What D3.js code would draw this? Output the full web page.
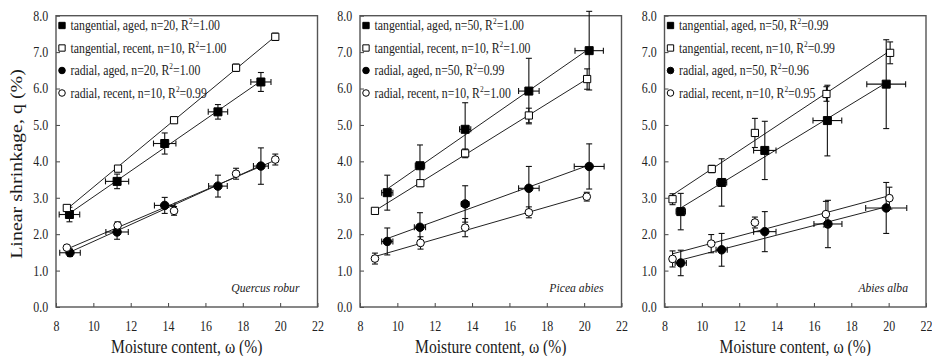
<!DOCTYPE html>
<html><head><meta charset="utf-8">
<script src="https://cdn.jsdelivr.net/npm/d3@7"></script>
<style>
body{margin:0;background:#fff;}
svg{display:block;}
</style></head>
<body><svg id="c" width="932" height="356" font-family="Liberation Serif"></svg>
<script>
// ---- data ----
const species = ["Quercus robur", "Picea abies", "Abies alba"];
const seriesNames = ["tangential, aged", "tangential, recent", "radial, aged", "radial, recent"];
const nValues = [[20,10,20,10],[50,10,50,10],[50,10,50,10]];
const r2Values = [["1.00","1.00","1.00","0.99"],["1.00","1.00","0.99","1.00"],["0.99","0.99","0.96","0.95"]];
const xTicks = [8,10,12,14,16,18,20,22];
const yTicks = [0,1,2,3,4,5,6,7,8];

// Quercus robur: [x, y, xErr, yErr]
const quercusTanAged   = [[8.72,2.54,0.55,0.2],[11.27,3.45,0.62,0.2],[13.82,4.49,0.6,0.29],[16.67,5.36,0.52,0.2],[18.97,6.18,0.54,0.26]];
const quercusTanRecent = [[8.58,2.72,0,0.06],[11.32,3.8,0,0.08],[14.32,5.13,0,0.08],[17.64,6.57,0,0.1],[19.74,7.42,0,0.1]];
const quercusRadAged   = [[8.75,1.49,0.55,0.1],[11.27,2.06,0.6,0.2],[13.82,2.79,0.55,0.22],[16.67,3.32,0.5,0.3],[18.97,3.87,0.4,0.5]];
const quercusRadRecent = [[8.58,1.63,0,0.05],[11.3,2.24,0,0.1],[14.32,2.64,0,0.12],[17.64,3.66,0,0.15],[19.74,4.05,0,0.15]];
// Picea abies
const piceaTanAged   = [[9.46,3.14,0.3,0.48],[11.21,3.88,0.25,0.57],[13.63,4.88,0.3,0.73],[17.04,5.93,0.55,0.9],[20.27,7.04,0.76,1.08]];
const piceaTanRecent = [[8.8,2.64,0,0.05],[11.23,3.4,0,0.08],[13.63,4.22,0,0.12],[17.04,5.26,0,0.2],[20.16,6.26,0,0.28]];
const piceaRadAged   = [[9.46,1.8,0.3,0.37],[11.21,2.19,0.3,0.4],[13.63,2.83,0.2,0.5],[17.04,3.26,0.55,0.6],[20.27,3.86,0.8,0.62]];
const piceaRadRecent = [[8.8,1.33,0,0.15],[11.24,1.76,0,0.17],[13.63,2.18,0,0.25],[17.04,2.6,0,0.15],[20.14,3.03,0,0.12]];
// Abies alba
const abiesTanAged   = [[8.87,2.62,0.25,0.5],[11.06,3.42,0.27,0.65],[13.37,4.3,0.6,0.8],[16.72,5.12,0.77,0.97],[19.87,6.12,1.04,1.22]];
const abiesTanRecent = [[8.43,2.96,0,0.15],[10.53,3.79,0,0.1],[12.84,4.78,0,0.4],[16.67,5.85,0,0.2],[20.08,6.98,0,0.3]];
const abiesRadAged   = [[8.87,1.21,0.3,0.35],[11.06,1.57,0.3,0.45],[13.37,2.07,0.6,0.55],[16.75,2.28,0.75,0.65],[19.87,2.72,1.1,0.7]];
const abiesRadRecent = [[8.43,1.32,0,0.22],[10.5,1.74,0,0.25],[12.84,2.32,0,0.15],[16.64,2.55,0,0.35],[20.04,2.99,0,0.3]];

const panelsData = [
  [quercusTanAged, quercusTanRecent, quercusRadAged, quercusRadRecent],
  [piceaTanAged, piceaTanRecent, piceaRadAged, piceaRadRecent],
  [abiesTanAged, abiesTanRecent, abiesRadAged, abiesRadRecent]
];

// ---- layout ----
const FONT = "Liberation Serif";
const panelLeft = [56, 360, 664.5];
const pw = 261.5, plotTop = 15.7, plotBottom = 307;
const SX = 0.866; // horizontal text compression seen in the reference
const svg = d3.select("#c");
const markerShape = [d3.symbolSquare, d3.symbolSquare, d3.symbolCircle, d3.symbolCircle];
const markerFill = ["#000","#fff","#000","#fff"];
const markerSize = [64, 52, 56, 46];

function fit(pts){
  const mx=d3.mean(pts,d=>d[0]), my=d3.mean(pts,d=>d[1]);
  let sxy=0,sxx=0; pts.forEach(d=>{sxy+=(d[0]-mx)*(d[1]-my);sxx+=(d[0]-mx)**2;});
  const b=sxy/sxx; return [b, my-b*mx];
}
function label(parent, x, y, size){
  return parent.append("text").attr("transform",`translate(${x},${y}) scale(${SX},1)`)
    .attr("font-family",FONT).attr("font-size",size).attr("fill","#1a1a1a");
}

panelsData.forEach((series, pi) => {
  const L = panelLeft[pi];
  const x = d3.scaleLinear().domain([8,22]).range([L, L+pw]);
  const y = d3.scaleLinear().domain([0,8]).range([plotBottom, plotTop]);
  const g = svg.append("g");

  const xa = g.append("g").attr("transform",`translate(0,${plotBottom})`)
    .call(d3.axisBottom(x).tickValues(xTicks).tickSizeInner(-4).tickSizeOuter(0).tickPadding(14).tickFormat(d3.format("d")));
  const ya = g.append("g").attr("transform",`translate(${L},0)`)
    .call(d3.axisLeft(y).tickValues(yTicks).tickSizeInner(-4).tickSizeOuter(0).tickPadding(9).tickFormat(d3.format(".1f")));
  [xa,ya].forEach(a=>{
    a.attr("font-family",FONT).attr("font-size",13.8);
    a.select(".domain").remove();
    a.selectAll("line").attr("stroke","#444").attr("stroke-width",1);
    a.selectAll("text").attr("font-family",FONT).attr("font-size",13.8).attr("fill","#222").attr("transform",`scale(${SX},1)`);
  });
  g.append("rect").attr("x",L).attr("y",plotTop).attr("width",pw).attr("height",plotBottom-plotTop)
    .attr("fill","none").attr("stroke","#555").attr("stroke-width",1.4);

  series.forEach(pts => {
    const [b,a] = fit(pts);
    const x0=d3.min(pts,d=>d[0]), x1=d3.max(pts,d=>d[0]);
    g.append("line").attr("x1",x(x0)).attr("y1",y(a+b*x0)).attr("x2",x(x1)).attr("y2",y(a+b*x1))
      .attr("stroke","#222").attr("stroke-width",1);
  });

  series.forEach((pts, si) => {
    pts.forEach(d => {
      const cx=x(d[0]), cy=y(d[1]);
      const eb = g.append("g").attr("stroke","#111").attr("stroke-width",1.1);
      if (d[3]>0){
        eb.append("line").attr("x1",cx).attr("x2",cx).attr("y1",y(d[1]-d[3])).attr("y2",y(d[1]+d[3]));
        [d[1]-d[3], d[1]+d[3]].forEach(v=>eb.append("line").attr("x1",cx-3).attr("x2",cx+3).attr("y1",y(v)).attr("y2",y(v)));
      }
      if (d[2]>0){
        eb.append("line").attr("y1",cy).attr("y2",cy).attr("x1",x(d[0]-d[2])).attr("x2",x(d[0]+d[2]));
        [d[0]-d[2], d[0]+d[2]].forEach(v=>eb.append("line").attr("y1",cy-3).attr("y2",cy+3).attr("x1",x(v)).attr("x2",x(v)));
      }
    });
    g.selectAll(null).data(pts).enter().append("path")
      .attr("d", d3.symbol().type(markerShape[si]).size(markerSize[si]))
      .attr("transform", d=>`translate(${x(d[0])},${y(d[1])})`)
      .attr("fill", markerFill[si]).attr("stroke","#000").attr("stroke-width",1);
  });

  seriesNames.forEach((nm, si) => {
    const ly = 25.5 + si*22.5;
    g.append("path").attr("d", d3.symbol().type(markerShape[si]).size(si<2?40:34))
      .attr("transform",`translate(${L+6},${ly})`)
      .attr("fill", markerFill[si]).attr("stroke","#000").attr("stroke-width",1);
    const t = label(g, L+14.5, ly+4.5, 13.6);
    t.append("tspan").text(`${nm}, n=${nValues[pi][si]}, R`);
    t.append("tspan").attr("dy",-6).attr("font-size",8.5).text("2");
    t.append("tspan").attr("dy",6).text(`=${r2Values[pi][si]}`);
  });

  label(g, L+pw-18, 292, 13.5).attr("text-anchor","end")
    .attr("font-style","italic").text(species[pi]);

  label(g, L+pw/2, 352.5, 18).attr("text-anchor","middle").text("Moisture content, ω (%)");
});

svg.append("text").attr("transform",`translate(21.5,164) rotate(-90) scale(1,${SX})`).attr("text-anchor","middle")
  .attr("font-family",FONT).attr("font-size",20).attr("fill","#1a1a1a").text("Linear shrinkage, q (%)");
</script></body></html>
